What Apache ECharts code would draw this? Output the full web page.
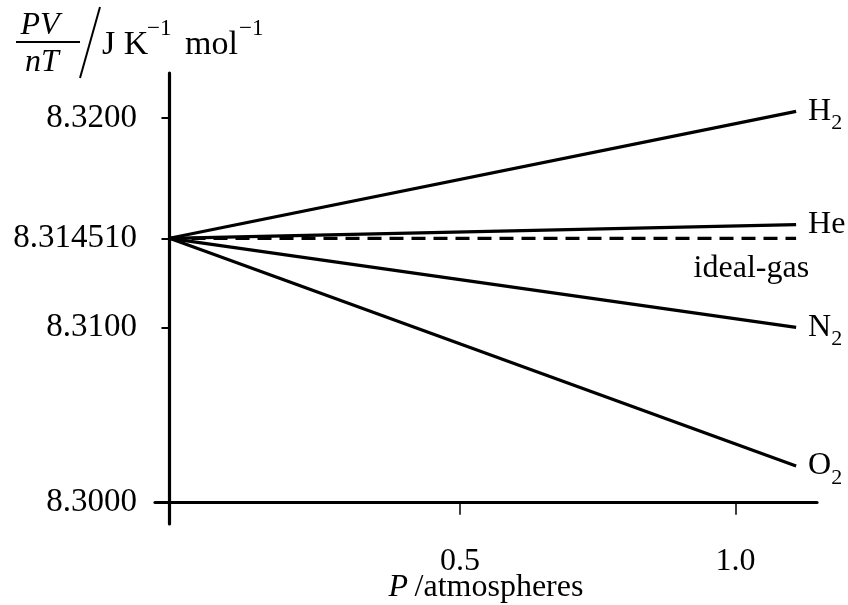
<!DOCTYPE html>
<html>
<head>
<meta charset="utf-8">
<script src="https://cdn.jsdelivr.net/npm/echarts@6/dist/echarts.min.js"></script>
<style>
    html, body { margin: 0; padding: 0; background: #fff; }
    #chart { width: 848px; height: 605px; }
</style>
</head>
<body>
<div id="chart"></div>
<script>
const FONT = "'Liberation Serif', 'DejaVu Serif', serif";

// data (P in atm, PV/nT in J K^-1 mol^-1)
const pressure = [0, 1.11];
const h2 = [8.314510, 8.3203];
const he = [8.314510, 8.31513];
const idealGas = [8.314510, 8.314510];
const n2 = [8.314510, 8.3100];
const o2 = [8.314510, 8.30209];

const xTickValues = [0.5, 1.0];
const xTickLabels = ['0.5', '1.0'];
const yTickValues = [8.3000, 8.3100, 8.314510, 8.3200];
const yTickLabels = ['8.3000', '8.3100', '8.314510', '8.3200'];

// the drawing is schematic: axes are not linear, so map through knots
const xKnots = [0, 0.5, 1.0];
const xKnotPos = [0, 290.5, 566];
const yKnots = [8.3000, 8.3100, 8.314510, 8.3200];
const yKnotPos = [0, 175.4, 264.4, 384.7];

const piecewise = (v, knots, pos) => {
    let i = 0;
    while (i < knots.length - 2 && v > knots[i + 1]) i++;
    const t = (v - knots[i]) / (knots[i + 1] - knots[i]);
    return pos[i] + t * (pos[i + 1] - pos[i]);
};
const toX = v => piecewise(v, xKnots, xKnotPos);
const toY = v => piecewise(v, yKnots, yKnotPos);

const xTickPos = xTickValues.map(toX);
const yTickPos = yTickValues.map(toY);
const pickLabel = (value, positions, labels) => {
    const i = positions.findIndex(p => Math.abs(p - value) < 0.01);
    return i >= 0 ? labels[i] : '';
};

const labelRich = {
    m: { fontSize: 32, fontFamily: FONT, color: '#000' },
    s: { fontSize: 22, fontFamily: FONT, color: '#000', padding: [24, 0, 0, 0] },
};

const makeSeries = (name, values, text, extra) => ({
    name: name,
    type: 'line',
    symbol: 'none',
    data: pressure.map((p, i) => [toX(p), toY(values[i])]),
    lineStyle: Object.assign({ color: '#000', width: 3.2 }, extra || {}),
    endLabel: {
        show: true,
        distance: 12,
        formatter: text,
        rich: labelRich,
    },
    z: 3,
});

const charts = echarts.init(document.getElementById('chart'));
charts.setOption({
    animation: false,
    backgroundColor: '#fff',
    grid: { left: 155, right: 31, top: 73, bottom: 81, outerBoundsMode: 'none', containLabel: false },
    xAxis: {
        type: 'value',
        min: -14.5,
        max: 647.5,
        name: '{i|P}\u2009/atmospheres',
        nameLocation: 'middle',
        nameGap: 48,
        nameMoveOverlap: false,
        nameTextStyle: {
            fontSize: 32,
            fontFamily: FONT,
            color: '#000',
            rich: {
                i: { fontSize: 32, fontFamily: FONT, fontStyle: 'italic', color: '#000' },
            },
        },
        axisLine: { onZero: true, lineStyle: { color: '#000', width: 3.2 } },
        axisTick: { customValues: xTickPos, length: 12, lineStyle: { color: '#000', width: 1.5 } },
        axisLabel: {
            customValues: xTickPos,
            margin: 22,
            fontSize: 32,
            fontFamily: FONT,
            color: '#000',
            formatter: v => pickLabel(v, xTickPos, xTickLabels),
        },
        splitLine: { show: false },
    },
    yAxis: {
        type: 'value',
        min: -21.3,
        max: 429.7,
        axisLine: { onZero: true, lineStyle: { color: '#000', width: 3.2 } },
        axisTick: { customValues: yTickPos, length: 8, lineStyle: { color: '#000', width: 2 } },
        axisLabel: {
            customValues: yTickPos,
            margin: 18,
            fontSize: 33,
            fontFamily: FONT,
            color: '#000',
            formatter: v => pickLabel(v, yTickPos, yTickLabels),
        },
        splitLine: { show: false },
    },
    series: [
        makeSeries('H2', h2, '{m|H}{s|2}'),
        makeSeries('He', he, '{m|He}'),
        Object.assign(makeSeries('ideal-gas', idealGas, '{m|ideal-gas}', { type: [14, 8] }), {
            endLabel: {
                show: true,
                distance: 13,
                align: 'right',
                offset: [0, 30],
                formatter: '{m|ideal-gas}',
                rich: labelRich,
            },
        }),
        makeSeries('N2', n2, '{m|N}{s|2}'),
        makeSeries('O2', o2, '{m|O}{s|2}'),
    ],
    graphic: [
        { type: 'text', x: 40, y: 26, style: { text: 'PV', font: 'italic 32px ' + FONT, fill: '#000', align: 'center', verticalAlign: 'middle' } },
        { type: 'line', shape: { x1: 16, y1: 42, x2: 80, y2: 42 }, style: { stroke: '#000', lineWidth: 2 } },
        { type: 'text', x: 42, y: 63, style: { text: 'nT', font: 'italic 32px ' + FONT, fill: '#000', align: 'center', verticalAlign: 'middle' } },
        { type: 'line', shape: { x1: 80, y1: 78, x2: 100, y2: 7 }, style: { stroke: '#000', lineWidth: 2 } },
        { type: 'text', x: 102, y: 45, style: { text: 'J K', font: '34px ' + FONT, fill: '#000', align: 'left', verticalAlign: 'middle' } },
        { type: 'text', x: 147, y: 29, style: { text: '\u22121', font: '23px ' + FONT, fill: '#000', align: 'left', verticalAlign: 'middle' } },
        { type: 'text', x: 185, y: 45, style: { text: 'mol', font: '34px ' + FONT, fill: '#000', align: 'left', verticalAlign: 'middle' } },
        { type: 'text', x: 239, y: 29, style: { text: '\u22121', font: '23px ' + FONT, fill: '#000', align: 'left', verticalAlign: 'middle' } },
    ],
});
</script>
</body>
</html>
